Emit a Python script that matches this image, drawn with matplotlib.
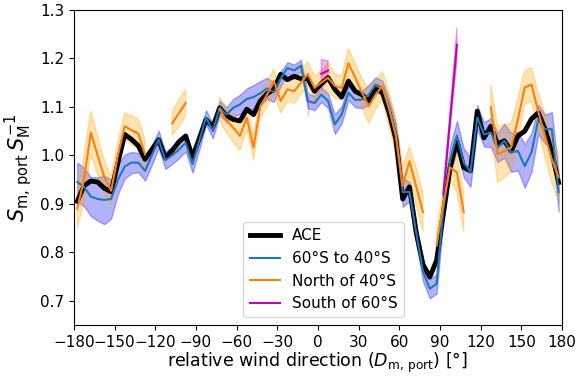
import matplotlib
matplotlib.use("Agg")
import matplotlib.pyplot as plt
import numpy as np

nan = np.nan

# bin centres of relative wind direction [deg]
wdir = np.arange(-177.5, 180, 5.0)

ace = [0.905, 0.937, 0.947, 0.945, 0.932, 0.925, 0.985, 1.043, 1.033, 1.020,
       0.992, 1.012, 1.032, 0.995, 1.010, 1.028, 1.040, 0.996, 1.035, 1.074,
       1.058, 1.098, 1.082, 1.074, 1.071, 1.095, 1.084, 1.112, 1.127, 1.136,
       1.167, 1.156, 1.163, 1.158, 1.158, 1.132, 1.148, 1.160, 1.136, 1.120,
       1.153, 1.132, 1.125, 1.112, 1.137, 1.130, 1.088, 1.033, 0.910, 0.935,
       0.840, 0.775, 0.749, 0.783, 0.880, 0.975, 1.030, 0.975, 0.968, 1.091,
       1.036, 1.060, 1.023, 1.030, 1.009, 1.040, 1.050, 1.075, 1.088, 1.054,
       1.006, 0.944]

mid = [0.945, 0.935, 0.915, 0.910, 0.908, 0.910, 0.950, 0.977, 0.985, 0.985,
       0.968, 1.000, 1.033, 0.990, 1.000, 1.012, 1.026, 0.982, 1.030, 1.078,
       1.050, 1.098, 1.084, 1.098, 1.105, 1.116, 1.120, 1.128, 1.138, 1.130,
       1.158, 1.180, 1.175, 1.185, 1.112, 1.108, 1.125, 1.112, 1.064, 1.084,
       1.129, 1.114, 1.115, 1.125, 1.146, 1.139, 1.100, 1.045, 0.924, 0.925,
       0.840, 0.760, 0.725, 0.735, 0.890, 0.990, 1.041, 0.985, 0.965, 1.078,
       1.043, 1.047, 1.016, 1.030, 1.006, 1.009, 0.978, 1.006, 1.074, 1.054,
       1.054, 0.924]
mid_err = [0.040, 0.040, 0.040, 0.045, 0.050, 0.040, 0.030, 0.025, 0.022, 0.020,
           0.020, 0.020, 0.018, 0.018, 0.018, 0.018, 0.018, 0.018, 0.018, 0.015,
           0.015, 0.015, 0.015, 0.018, 0.020, 0.022, 0.025, 0.025, 0.022, 0.020,
           0.015, 0.012, 0.012, 0.012, 0.015, 0.015, 0.015, 0.015, 0.020, 0.018,
           0.015, 0.015, 0.018, 0.020, 0.015, 0.015, 0.015, 0.020, 0.030, 0.020,
           0.020, 0.020, 0.020, 0.020, 0.025, 0.030, 0.030, 0.030, 0.030, 0.025,
           0.025, 0.030, 0.030, 0.035, 0.040, 0.040, 0.045, 0.040, 0.030, 0.030,
           0.035, 0.040]

north = [0.890, 0.950, 1.047, 1.000, 0.955, 0.927, 1.000, 1.060, 1.052, 1.045,
         1.002, nan, nan, nan, 1.066, 1.087, 1.108, nan, nan, nan,
         nan, 1.095, 1.072, 1.057, 1.040, 1.078, 1.016, 1.101, 1.125, 1.153,
         1.112, 1.136, 1.132, 1.150, 1.168, 1.139, 1.150, 1.160, 1.143, 1.139,
         1.190, 1.160, 1.129, 1.101, 1.125, 1.143, 1.095, 1.040, 0.937, 0.988,
         0.935, 0.883, nan, 0.814, 0.900, 0.975, 0.965, 0.883, nan, nan,
         nan, 1.100, 1.002, 1.009, 1.016, 1.074, 1.140, 1.146, 1.090, 1.040,
         0.992, 0.955]
north_err = [0.040, 0.050, 0.045, 0.040, 0.035, 0.030, 0.030, 0.027, 0.030, 0.030,
             0.030, nan, nan, nan, 0.025, 0.028, 0.028, nan, nan, nan,
             nan, 0.025, 0.025, 0.030, 0.030, 0.025, 0.025, 0.025, 0.025, 0.025,
             0.025, 0.025, 0.025, 0.025, 0.025, 0.025, 0.025, 0.030, 0.025, 0.025,
             0.030, 0.030, 0.030, 0.035, 0.030, 0.030, 0.035, 0.040, 0.040, 0.030,
             0.040, 0.040, nan, 0.030, 0.030, 0.030, 0.040, 0.040, nan, nan,
             nan, 0.045, 0.058, 0.055, 0.050, 0.045, 0.035, 0.035, 0.040, 0.045,
             0.050, 0.050]

south = [nan] * len(wdir)
south_err = [nan] * len(wdir)
for d, v, e in [(-7.5, 1.103, 0.019), (2.5, 1.168, 0.030), (7.5, 1.175, 0.020),
                (92.5, 0.920, 0.010), (97.5, 1.074, 0.020), (102.5, 1.228, 0.035)]:
    i = int(round((d + 177.5) / 5))
    south[i] = v
    south_err[i] = e


def band(ax, y, err, color):
    y = np.array(y)
    err = np.array(err)
    ok = ~np.isnan(y)
    ax.fill_between(wdir, y - err, y + err, where=ok, color=color, alpha=0.3)


fig, ax = plt.subplots(figsize=(5.77, 3.78), dpi=100)
fig.subplots_adjust(left=0.128, right=0.974, top=0.974, bottom=0.14)

ax.plot(wdir, ace, color='k', lw=3.5, label='ACE')
band(ax, mid, mid_err, 'blue')
ax.plot(wdir, mid, color='tab:blue', lw=1.5, label='60°S to 40°S')
band(ax, north, north_err, 'orange')
ax.plot(wdir, north, color='tab:orange', lw=1.5, label='North of 40°S')
band(ax, south, south_err, 'm')
ax.plot(wdir, south, color='m', lw=1.5, label='South of 60°S')

ax.set_xlim(-180, 180)
ax.set_ylim(0.65, 1.3)
ax.set_xticks(np.arange(-180, 181, 30))
ax.set_yticks(np.arange(0.7, 1.31, 0.1))
ax.tick_params(labelsize=11)
ax.set_xlabel(r'relative wind direction ($D_{\mathrm{m,\,port}}$) [°]',
              fontsize=12.5, labelpad=1)
ax.set_ylabel(r'$S_{\mathrm{m,\,port}}\,S_{\mathrm{M}}^{-1}$', fontsize=15)
ax.legend(loc='lower center', bbox_to_anchor=(0.512, 0.0), fontsize=11)

fig.savefig('out.png', dpi=100)
